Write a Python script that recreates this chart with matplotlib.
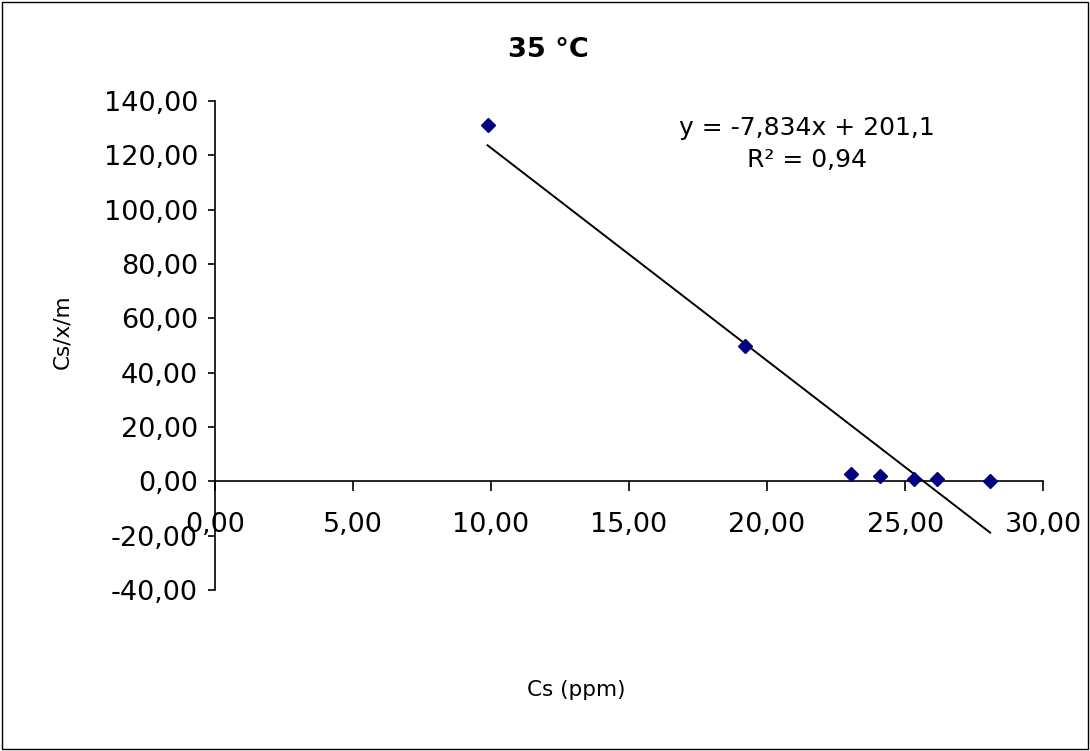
import matplotlib
matplotlib.use("Agg")
import matplotlib.pyplot as plt
from matplotlib.ticker import FuncFormatter, MultipleLocator
from matplotlib.patches import Rectangle

# DejaVu is wide enough to match the stretched look of the original
plt.rcParams['font.family'] = ['DejaVu Sans']

# data
cs_ppm = [9.88, 19.2, 23.04, 24.09, 25.33, 26.15, 28.08]
cs_xm = [131.3, 49.8, 2.7, 1.8, 0.9, 0.7, 0.3]

# trendline as printed on the chart
slope = -7.834
intercept = 201.1
r2 = 0.94

title = "35 °C"
x_label = "Cs (ppm)"
y_label = "Cs/x/m"


def comma_fmt(v, pos):
    return ("%.2f" % v).replace(".", ",")


fig = plt.figure(figsize=(10.9, 7.51), dpi=100)
ax = fig.add_axes([0.197, 0.2144, 0.76, 0.6511])

# scatter points
ax.plot(cs_ppm, cs_xm, linestyle="none", marker="D", markersize=7.5,
        color="#000080", zorder=3)

# linear trendline across the data range
x0, x1 = min(cs_ppm), max(cs_ppm)
ax.plot([x0, x1], [slope * x0 + intercept, slope * x1 + intercept],
        color="black", linewidth=1.4, zorder=2)

ax.set_xlim(0, 30)
ax.set_ylim(-40, 140)
ax.xaxis.set_major_locator(MultipleLocator(5))
ax.yaxis.set_major_locator(MultipleLocator(20))
ax.xaxis.set_major_formatter(FuncFormatter(comma_fmt))
ax.yaxis.set_major_formatter(FuncFormatter(comma_fmt))

# Excel-style axes crossing at zero
ax.spines["top"].set_visible(False)
ax.spines["right"].set_visible(False)
ax.spines["bottom"].set_position(("data", 0))
ax.spines["left"].set_linewidth(1.2)
ax.spines["bottom"].set_linewidth(1.2)
ax.tick_params(axis="x", direction="out", length=7, width=1.2, pad=15,
               labelsize=19.5)
ax.tick_params(axis="y", direction="out", length=5, width=1.2, pad=7,
               labelsize=19.5)

# titles and labels
fig.text(0.503, 0.933, title, ha="center", va="center", fontsize=19.5,
         fontweight="bold")
fig.text(0.529, 0.081, x_label, ha="center", va="center", fontsize=15.5)
fig.text(0.057, 0.559, y_label, ha="center", va="center", fontsize=15.5,
         rotation=90)

eq = "y = %sx + %s" % (("%.3f" % slope).replace(".", ","),
                       ("%.1f" % intercept).replace(".", ","))
fig.text(0.740, 0.830, eq, ha="center", va="center", fontsize=18)
fig.text(0.740, 0.787, "R² = " + ("%.2f" % r2).replace(".", ","),
         ha="center", va="center", fontsize=18)

# border round the whole chart
fig.patches.append(Rectangle((0.002, 0.003), 0.996, 0.994,
                             transform=fig.transFigure, fill=False,
                             edgecolor="black", linewidth=1))

fig.savefig("out.png", dpi=100)
